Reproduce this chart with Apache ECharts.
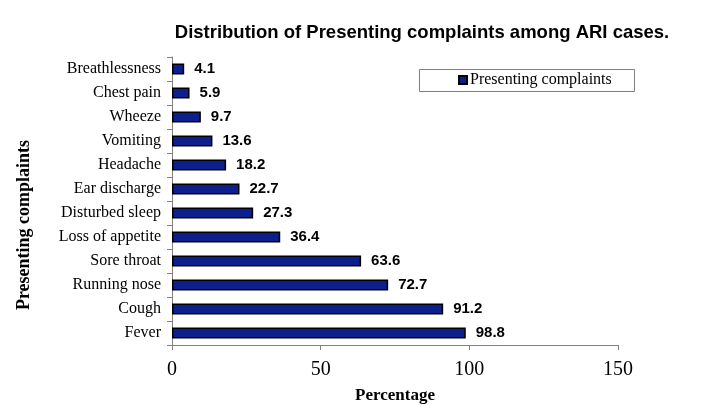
<!DOCTYPE html>
<html><head><meta charset="utf-8">
<script src="https://cdn.jsdelivr.net/npm/echarts@6/dist/echarts.min.js"></script>
<style>html,body{margin:0;padding:0;background:#fff}#c{width:716px;height:417px}</style>
</head><body><div id="c"></div>
<script>
const categories = ["Fever","Cough","Running nose","Sore throat","Loss of appetite","Disturbed sleep","Ear discharge","Headache","Vomiting","Wheeze","Chest pain","Breathlessness"];
const values = [98.8,91.2,72.7,63.6,36.4,27.3,22.7,18.2,13.6,9.7,5.9,4.1];
const xTicks = [0,50,100,150];
const seriesName = "Presenting complaints";

const chart = echarts.init(document.getElementById('c'));
chart.setOption({
  animation:false,
  title:{text:"Distribution of Presenting complaints among ARI cases.",left:417,top:18,textAlign:'center',
    textStyle:{fontFamily:'Liberation Sans, Arial',fontWeight:'bold',fontSize:18.5,color:'#000'}},
  graphic:[{type:'rect',left:419,top:69,shape:{width:215,height:22},z:-1,
    style:{fill:'#fff',stroke:'#808080',lineWidth:1}}],
  legend:{data:[seriesName],left:458,top:72,padding:0,
    itemWidth:8,itemHeight:8,itemGap:4,
    textStyle:{fontFamily:'Liberation Serif, Times New Roman',fontSize:16,color:'#000',padding:[0,0,0,-2]},
    icon:'rect'},
  grid:{left:172,right:98,top:57,bottom:72},
  xAxis:{type:'value',min:0,max:150,interval:50,
    name:'Percentage',nameLocation:'middle',nameGap:42,
    nameTextStyle:{fontFamily:'Liberation Serif, Times New Roman',fontWeight:'bold',fontSize:17,color:'#000'},
    axisLine:{show:true,lineStyle:{color:'#808080'}},
    axisTick:{show:true,length:5,lineStyle:{color:'#808080'}},
    splitLine:{show:false},
    axisLabel:{fontFamily:'Liberation Serif, Times New Roman',fontSize:20,color:'#000',margin:15,
      formatter:v=>xTicks.includes(v)?String(v):''}},
  yAxis:{type:'category',data:categories,
    name:'Presenting complaints',nameLocation:'middle',nameGap:139,nameRotate:90,
    nameTextStyle:{fontFamily:'Liberation Serif, Times New Roman',fontWeight:'bold',fontSize:18,color:'#000',padding:[0,48,0,0]},
    axisLine:{show:true,lineStyle:{color:'#808080'}},
    axisTick:{show:true,length:5,lineStyle:{color:'#808080'}},
    axisLabel:{fontFamily:'Liberation Serif, Times New Roman',fontSize:16,color:'#000',margin:11}},
  series:[{name:seriesName,type:'bar',data:values,barWidth:11,
    itemStyle:{color:'#0c1f8f',borderColor:'#000',borderWidth:1.5},
    label:{show:true,position:'right',distance:10,
      fontFamily:'Liberation Sans, Arial',fontWeight:'bold',fontSize:15,color:'#000',
      formatter:p=>p.value.toFixed(1)}}]
});
</script></body></html>
